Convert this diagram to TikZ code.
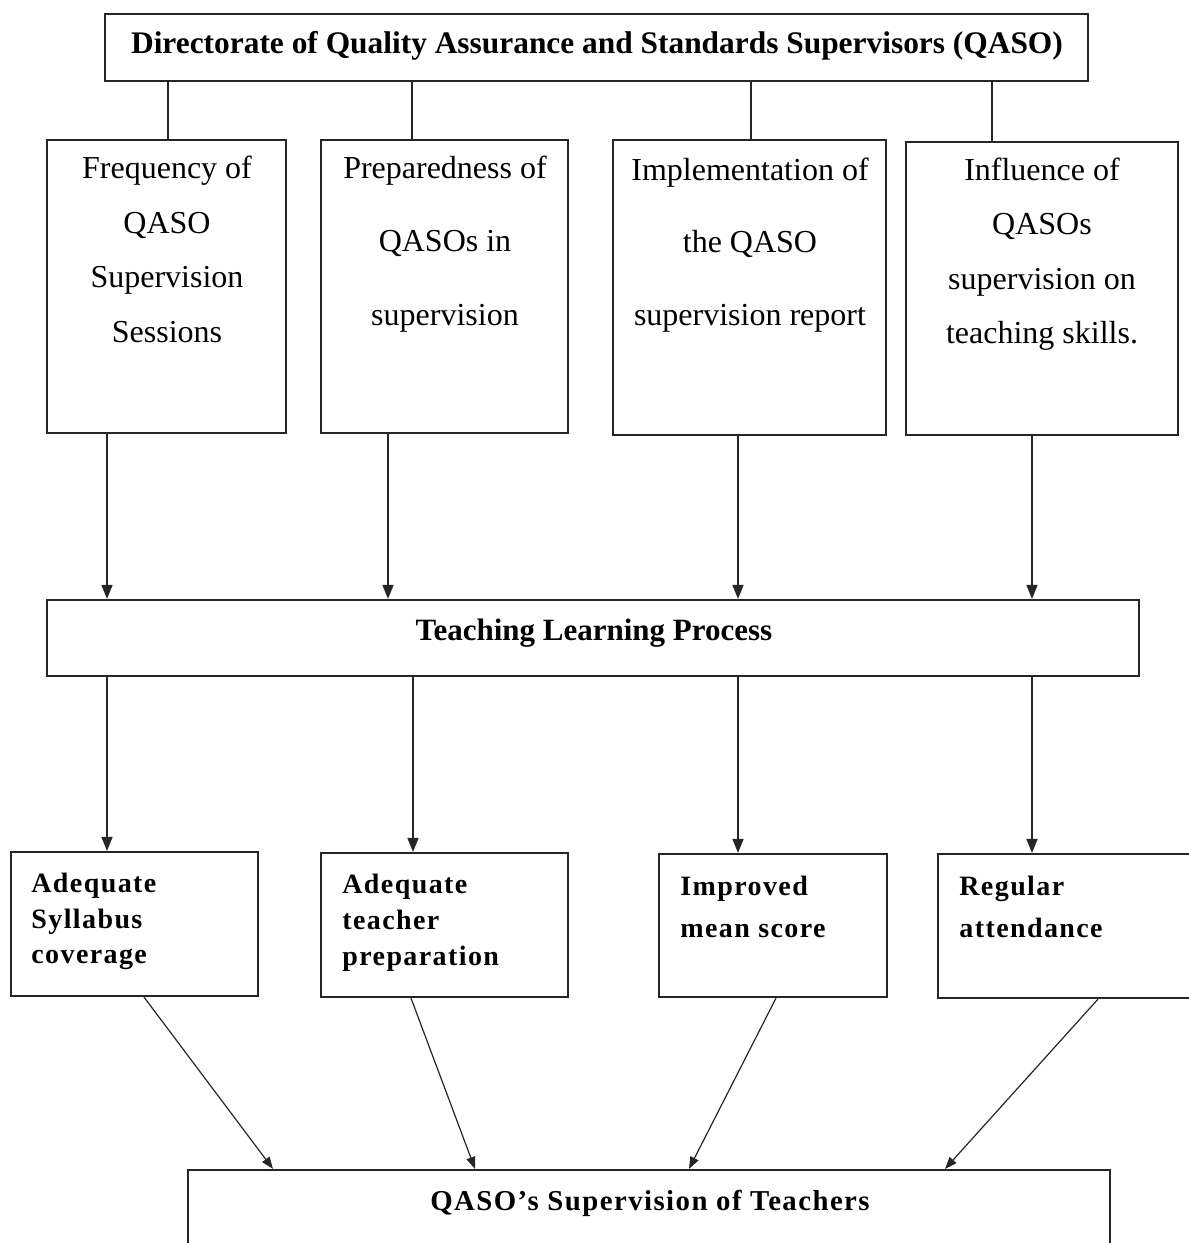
\documentclass[tikz,border=0pt]{standalone}
\usepackage{fontspec}
\setmainfont{Liberation Serif}
\newfontfamily\spacedfont[LetterSpace=5]{Liberation Serif}
\newfontfamily\spacedfontb[LetterSpace=5]{Liberation Serif}
\usetikzlibrary{arrows.meta,fit}
\newcommand\firstfix{\rule{0pt}{12pt}}
\newcommand\firstfixb{\rule{0pt}{11.5pt}}
\begin{document}
\begin{tikzpicture}[x=0.5pt,y=-0.5pt,
  box/.style={draw=black!85, line width=1.1pt, inner sep=0pt},
  conn/.style={draw=black!85, line width=0.8pt},
  arr/.style={conn, -{Triangle[length=7pt,width=5.5pt]}},
  darr/.style={draw=black!85, line width=0.6pt, -{Triangle[length=6pt,width=4.5pt]}},
  headtxt/.style={inner sep=0pt, font=\bfseries\fontsize{15.7pt}{18pt}\selectfont, anchor=base},
  midtxt/.style={inner sep=0pt, align=center, anchor=north},
  outtxt/.style={inner sep=0pt, align=left, anchor=north west},
]
\useasboundingbox (0,0) rectangle (1189,1243);
\clip (0,0) rectangle (1189,1243);

% top box
\node[box, fit={(105,14) (1088,81)}] (top) {};
\node[headtxt] (toptext) at (597,53) {Directorate of Quality Assurance and Standards Supervisors (QASO)};

% second row
\node[box, fit={(47,140) (286,433)}] (f1) {};
\node[box, fit={(321,140) (568,433)}] (f2) {};
\node[box, fit={(613,140) (886,435)}] (f3) {};
\node[box, fit={(906,142) (1178,435)}] (f4) {};

\node[midtxt, font=\fontsize{16pt}{27.35pt}\selectfont] (f1t) at (167,154)
  {\firstfix Frequency of\\QASO\\Supervision\\Sessions};
\node[midtxt, font=\fontsize{16pt}{36.75pt}\selectfont] (f2t) at (445,154)
  {\firstfix Preparedness of\\QASOs in\\supervision};
\node[midtxt, font=\fontsize{16pt}{36.25pt}\selectfont] (f3t) at (750,156)
  {\firstfix Implementation of\\the QASO\\supervision report};
\node[midtxt, font=\fontsize{16pt}{27.25pt}\selectfont] (f4t) at (1042,156)
  {\firstfix Influence of\\QASOs\\supervision on\\teaching skills.};

% teaching learning process
\node[box, fit={(47,600) (1139,676)}] (tlp) {};
\node[headtxt, font=\bfseries\fontsize{15.5pt}{18pt}\selectfont] (tlpt) at (594,640) {Teaching Learning Process};

% third row
\node[box, fit={(11,852) (258,996)}] (r1) {};
\node[box, fit={(321,853) (568,997)}] (r2) {};
\node[box, fit={(659,854) (887,997)}] (r3) {};
\node[box, fit={(938,854) (1210,998)}] (r4) {};

\node[outtxt, font=\spacedfont\bfseries\fontsize{14pt}{17.85pt}\selectfont] (r1t) at (31,869)
  {\firstfixb Adequate\\Syllabus\\coverage};
\node[outtxt, font=\spacedfont\bfseries\fontsize{14pt}{17.9pt}\selectfont] (r2t) at (342,870)
  {\firstfixb Adequate\\teacher\\preparation};
\node[outtxt, font=\spacedfont\bfseries\fontsize{14pt}{21pt}\selectfont] (r3t) at (680,872)
  {\firstfixb Improved\\mean score};
\node[outtxt, font=\spacedfont\bfseries\fontsize{14pt}{21pt}\selectfont] (r4t) at (959,872)
  {\firstfixb Regular\\attendance};

% bottom box
\node[box, fit={(188,1170) (1110,1300)}] (bot) {};
\node[headtxt, font=\spacedfontb\bfseries\fontsize{14.4pt}{16pt}\selectfont] (bott) at (650,1210) {QASO’s Supervision of Teachers};

% connector columns
\coordinate (a1) at (168,0);
\coordinate (a2) at (412,0);
\coordinate (a3) at (751,0);
\coordinate (a4) at (992,0);
\coordinate (b1) at (107,0);
\coordinate (b2) at (388,0);
\coordinate (b3) at (738,0);
\coordinate (b4) at (1032,0);
\coordinate (c1) at (107,0);
\coordinate (c2) at (413,0);
\coordinate (c3) at (738,0);
\coordinate (c4) at (1032,0);
\coordinate (s1) at (144,0);
\coordinate (s2) at (411,0);
\coordinate (s3) at (776,0);
\coordinate (s4) at (1098,0);
\coordinate (e1) at (273,0);
\coordinate (e2) at (475,0);
\coordinate (e3) at (689,0);
\coordinate (e4) at (945,0);

% top to second row
\draw[conn] (top.south -| a1) -- (f1.north -| a1);
\draw[conn] (top.south -| a2) -- (f2.north -| a2);
\draw[conn] (top.south -| a3) -- (f3.north -| a3);
\draw[conn] (top.south -| a4) -- (f4.north -| a4);

% second row to process
\draw[arr] (f1.south -| b1) -- (tlp.north -| b1);
\draw[arr] (f2.south -| b2) -- (tlp.north -| b2);
\draw[arr] (f3.south -| b3) -- (tlp.north -| b3);
\draw[arr] (f4.south -| b4) -- (tlp.north -| b4);

% process to third row
\draw[arr] (tlp.south -| c1) -- (r1.north -| c1);
\draw[arr] (tlp.south -| c2) -- (r2.north -| c2);
\draw[arr] (tlp.south -| c3) -- (r3.north -| c3);
\draw[arr] (tlp.south -| c4) -- (r4.north -| c4);

% third row to bottom
\draw[darr] (r1.south -| s1) -- (bot.north -| e1);
\draw[darr] (r2.south -| s2) -- (bot.north -| e2);
\draw[darr] (r3.south -| s3) -- (bot.north -| e3);
\draw[darr] (r4.south -| s4) -- (bot.north -| e4);
\end{tikzpicture}
\end{document}
